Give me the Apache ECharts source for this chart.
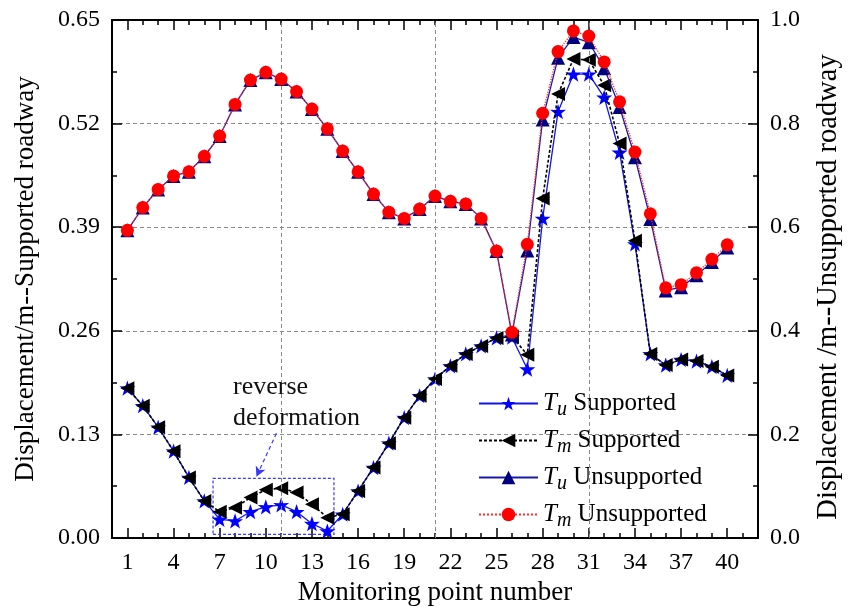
<!DOCTYPE html>
<html>
<head>
<meta charset="utf-8">
<script src="https://cdn.jsdelivr.net/npm/echarts@6/dist/echarts.min.js"></script>
<style>
  html, body { margin: 0; padding: 0; background: #ffffff; }
  #chart { width: 856px; height: 611px; }
</style>
</head>
<body>
<div id="chart"></div>
<script>
// Monitoring points along the roadway
const points = [1, 2, 3, 4, 5, 6, 7, 8, 9, 10, 11, 12, 13, 14, 15, 16, 17, 18, 19, 20,
                21, 22, 23, 24, 25, 26, 27, 28, 29, 30, 31, 32, 33, 34, 35, 36, 37, 38, 39, 40];

// Supported roadway displacement (m), left axis
const tuSupported = [0.188, 0.166, 0.139, 0.109, 0.076, 0.0465, 0.0235, 0.0214, 0.033, 0.039,
                     0.0415, 0.033, 0.018, 0.0088, 0.0298, 0.059, 0.0884, 0.119, 0.151, 0.1785,
                     0.1995, 0.216, 0.231, 0.241, 0.251, 0.252, 0.212, 0.401, 0.535, 0.582,
                     0.582, 0.553, 0.484, 0.369, 0.231, 0.217, 0.224, 0.222, 0.215, 0.204];
const tmSupported = [0.188, 0.166, 0.139, 0.109, 0.076, 0.0465, 0.033, 0.038, 0.0507, 0.0607,
                     0.0625, 0.057, 0.0424, 0.0255, 0.0298, 0.059, 0.0884, 0.119, 0.151, 0.1785,
                     0.1995, 0.216, 0.231, 0.241, 0.251, 0.253, 0.230, 0.426, 0.557, 0.601,
                     0.600, 0.568, 0.495, 0.373, 0.231, 0.217, 0.224, 0.222, 0.215, 0.204];

// Unsupported roadway displacement (m), right axis
const tuUnsupported = [0.594, 0.638, 0.673, 0.699, 0.707, 0.737, 0.776, 0.837, 0.884, 0.899,
                       0.886, 0.862, 0.828, 0.790, 0.747, 0.707, 0.664, 0.629, 0.617, 0.635,
                       0.660, 0.650, 0.645, 0.617, 0.554, 0.393, 0.555, 0.808, 0.927, 0.967,
                       0.957, 0.907, 0.832, 0.735, 0.616, 0.478, 0.484, 0.507, 0.533, 0.561];
const tmUnsupported = [0.594, 0.638, 0.673, 0.699, 0.707, 0.737, 0.776, 0.837, 0.884, 0.899,
                       0.886, 0.862, 0.828, 0.790, 0.747, 0.707, 0.664, 0.629, 0.617, 0.635,
                       0.660, 0.650, 0.645, 0.617, 0.554, 0.397, 0.567, 0.820, 0.939, 0.979,
                       0.969, 0.919, 0.842, 0.745, 0.626, 0.483, 0.489, 0.512, 0.538, 0.566];

// Axis tick labels
const xTickLabels = [1, 4, 7, 10, 13, 16, 19, 22, 25, 28, 31, 34, 37, 40];
const xMinorTicks = [2, 3, 5, 6, 8, 9, 11, 12, 14, 15, 17, 18, 20, 21, 23, 24, 26, 27, 29, 30,
                     32, 33, 35, 36, 38, 39, 41];
const xGridLines = [11, 21, 31];

// Reverse deformation zone (point range, displacement range) and its callout
const reverseZone = [[6.57, 0.0046], [14.43, 0.0749]];
const reverseArrow = [[10.69, 0.1314], [9.39, 0.0769]];
const reverseTextAt = [7.87, 0.170];

const serif = "'Liberation Serif', 'Times New Roman', serif";

const pairs = (ys) => ys.map((y, i) => [points[i], y]);

const starPath = 'path://M50,0 L61.8,35.1 L97.6,34.5 L69.1,56.7 L79.4,90.5 L50,70 L20.6,90.5 L30.9,56.7 L2.4,34.5 L38.2,35.1 Z';
const leftTriPath = 'path://M0,50 L90,0 L90,100 Z';

const legendText = {
  'Tu Supported':   '{t|T}{s|u} Supported',
  'Tm Supported':   '{t|T}{s|m} Supported',
  'Tu Unsupported': '{t|T}{s|u} Unsupported',
  'Tm Unsupported': '{t|T}{s|m} Unsupported'
};

function xAxisBase(position, ticks, len, withLine, withLabels) {
  return {
    type: 'value', position: position, min: 0, max: 42, interval: 1,
    axisLine: { show: withLine, onZero: false, lineStyle: { color: '#000', width: 2 } },
    axisTick: { show: true, inside: true, length: len, customValues: ticks,
                lineStyle: { color: '#000', width: 1.5 } },
    axisLabel: withLabels
      ? { show: true, customValues: xTickLabels, color: '#000', fontFamily: serif, fontSize: 24, margin: 13 }
      : { show: false },
    splitLine: { show: false }
  };
}

const chart = echarts.init(document.getElementById('chart'), null, { renderer: 'canvas' });

const bottomAxis = xAxisBase('bottom', xTickLabels, 10, true, true);
bottomAxis.name = 'Monitoring point number';
bottomAxis.nameLocation = 'middle';
bottomAxis.nameGap = 41;
bottomAxis.nameTextStyle = { color: '#000', fontFamily: serif, fontSize: 27 };

const option = {
  animation: false,
  backgroundColor: '#ffffff',
  grid: { left: 112, right: 98, top: 20, bottom: 73, containLabel: false, outerBoundsMode: 'none' },
  xAxis: [
    bottomAxis,
    xAxisBase('bottom', xMinorTicks, 5, false, false),
    xAxisBase('top', xTickLabels, 10, true, false),
    xAxisBase('top', xMinorTicks, 5, false, false)
  ],
  yAxis: [
    {
      type: 'value', position: 'left', min: 0, max: 0.65, interval: 0.13,
      name: 'Displacement/m--Supported roadway', nameLocation: 'middle', nameRotate: 90, nameGap: 73,
      nameTextStyle: { color: '#000', fontFamily: serif, fontSize: 27 },
      axisLine: { show: true, onZero: false, lineStyle: { color: '#000', width: 2 } },
      axisTick: { show: true, inside: true, length: 10, lineStyle: { color: '#000', width: 1.5 } },
      minorTick: { show: true, splitNumber: 2, length: 5, lineStyle: { color: '#000', width: 1.5 } },
      axisLabel: { color: '#000', fontFamily: serif, fontSize: 24, margin: 12,
                   formatter: (v) => v.toFixed(2) },
      splitLine: { show: true, lineStyle: { color: '#8a8a8a', width: 1, type: [4, 3] } }
    },
    {
      type: 'value', position: 'right', min: 0, max: 1, interval: 0.2,
      name: 'Displacement /m--Unsupported roadway', nameLocation: 'middle', nameRotate: 90, nameGap: 56,
      nameTextStyle: { color: '#000', fontFamily: serif, fontSize: 28.5, padding: [0, 16, 0, 0] },
      axisLine: { show: true, onZero: false, lineStyle: { color: '#000', width: 2 } },
      axisTick: { show: true, inside: true, length: 10, lineStyle: { color: '#000', width: 1.5 } },
      minorTick: { show: true, splitNumber: 2, length: 5, lineStyle: { color: '#000', width: 1.5 } },
      axisLabel: { color: '#000', fontFamily: serif, fontSize: 24, margin: 12,
                   formatter: (v) => v.toFixed(1) },
      splitLine: { show: false }
    }
  ],
  legend: {
    orient: 'vertical', left: 473, top: 382,
    itemWidth: 59, itemHeight: 17, itemGap: 4,
    data: ['Tu Supported', 'Tm Supported', 'Tu Unsupported', 'Tm Unsupported'],
    formatter: (name) => legendText[name],
    textStyle: {
      color: '#000', fontFamily: serif, fontSize: 25, lineHeight: 33,
      rich: {
        t: { fontFamily: serif, fontSize: 25, fontStyle: 'italic', color: '#000', lineHeight: 33 },
        s: { fontFamily: serif, fontSize: 20, fontStyle: 'italic', color: '#000',
             lineHeight: 20, verticalAlign: 'bottom' }
      }
    }
  },
  series: [
    {
      // vertical dashed grid lines
      type: 'line', data: [], xAxisIndex: 0, yAxisIndex: 0, z: 1, silent: true,
      markLine: {
        silent: true, symbol: 'none', animation: false,
        label: { show: false },
        lineStyle: { color: '#8a8a8a', width: 1, type: [4, 3] },
        data: xGridLines.map((x) => ({ xAxis: x }))
      }
    },
    {
      name: 'Tu Supported', type: 'line', xAxisIndex: 0, yAxisIndex: 0, z: 3,
      data: pairs(tuSupported),
      symbol: starPath, symbolKeepAspect: true, symbolSize: 16,
      itemStyle: { color: '#0000ff' },
      lineStyle: { color: '#1414e6', width: 1.3 },
      markArea: {
        silent: true,
        itemStyle: { color: 'rgba(0,0,0,0)', borderColor: '#3a3aff', borderWidth: 1.2, borderType: [3, 2] },
        label: { show: false },
        data: [[{ coord: reverseZone[0] }, { coord: reverseZone[1] }]]
      },
      markLine: {
        silent: true, animation: false,
        symbol: ['none', 'arrow'], symbolSize: [8, 10],
        label: { show: false },
        lineStyle: { color: '#3a3aff', width: 1.2, type: [4, 3] },
        data: [[{ coord: reverseArrow[0] }, { coord: reverseArrow[1] }]]
      }
    },
    {
      name: 'Tm Supported', type: 'line', xAxisIndex: 0, yAxisIndex: 0, z: 4,
      data: pairs(tmSupported),
      symbol: leftTriPath, symbolSize: 14,
      itemStyle: { color: '#000000' },
      lineStyle: { color: '#000000', width: 1.6, type: [3, 2] }
    },
    {
      name: 'Tu Unsupported', type: 'line', xAxisIndex: 0, yAxisIndex: 1, z: 5,
      data: pairs(tuUnsupported),
      symbol: 'triangle', symbolSize: 14,
      itemStyle: { color: '#000080' },
      lineStyle: { color: '#1a1aa8', width: 1.3 }
    },
    {
      name: 'Tm Unsupported', type: 'line', xAxisIndex: 0, yAxisIndex: 1, z: 6,
      data: pairs(tmUnsupported),
      symbol: 'circle', symbolSize: 13,
      itemStyle: { color: '#ff0000' },
      lineStyle: { color: '#ff2a2a', width: 1.3, type: 'dotted' }
    }
  ]
};

chart.setOption(option);

// callout text for the reverse deformation zone, anchored in data space
const anchor = chart.convertToPixel({ xAxisIndex: 0, yAxisIndex: 0 }, reverseTextAt);
chart.setOption({
  graphic: [{
    type: 'text', x: anchor[0], y: anchor[1], silent: true, z: 10,
    style: {
      text: 'reverse\ndeformation', fill: '#111', font: "26px 'Liberation Serif', 'Times New Roman', serif",
      lineHeight: 31, align: 'left', verticalAlign: 'middle'
    }
  }]
});
</script>
</body>
</html>
